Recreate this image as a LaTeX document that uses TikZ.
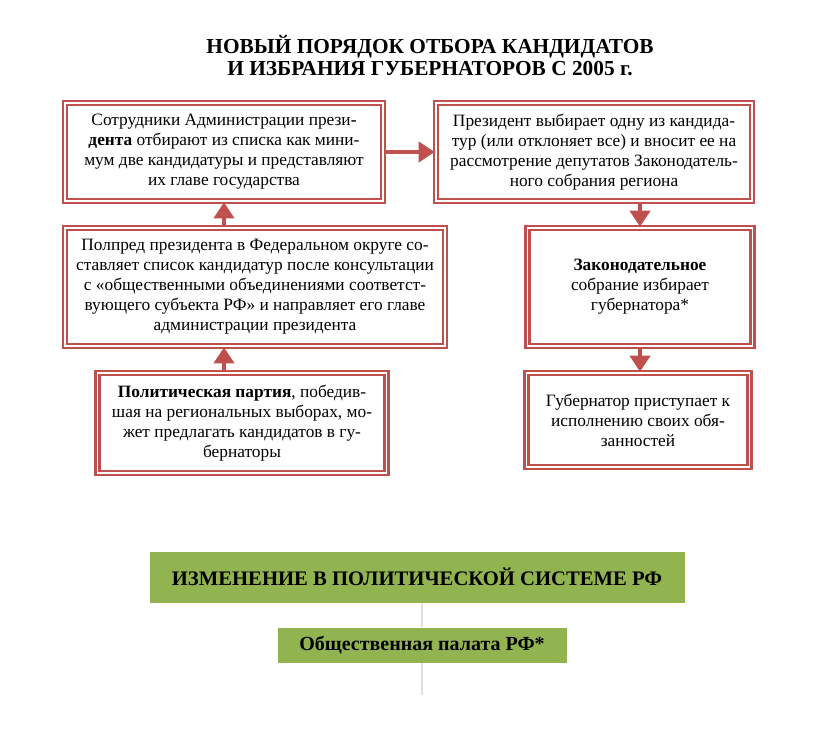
\documentclass[tikz,border=0pt]{standalone}
\usepackage{fontspec}
\setmainfont{Liberation Serif}
\usetikzlibrary{arrows.meta}

\definecolor{boxred}{RGB}{192,80,77}
\definecolor{leafgreen}{RGB}{146,180,80}
\newcommand{\pxu}{0.75pt}

\begin{document}
\begin{tikzpicture}[x=0.75pt, y=-0.75pt,
  stepbox/.style={draw=boxred, line width=1.9pt, double=white, double distance=0.8pt,
                  fill=white, align=center, inner sep=2pt,
                  font=\fontsize{13}{15}\selectfont},
  greenbar/.style={fill=leafgreen, align=center, inner sep=2pt,
                   font=\bfseries\fontsize{15.5}{17}\selectfont},
  flow/.style={-{Triangle[length=12pt,width=15pt]}, line width=3.6pt, boxred},
  faint/.style={black!12, line width=1pt}]

\useasboundingbox (0,0) rectangle (816,732);

\node[font=\bfseries\fontsize{16}{16.5}\selectfont, align=center] (title) at (430,56)
  {НОВЫЙ ПОРЯДОК ОТБОРА КАНДИДАТОВ\\И ИЗБРАНИЯ ГУБЕРНАТОРОВ С 2005 г.};

\node[stepbox, minimum width=318*\pxu, minimum height=98*\pxu] (staff) at (224,152)
  {Сотрудники Администрации прези\textbf{-}\\\textbf{дента} отбирают из списка как мини-\\мум две кандидатуры и представляют\\их главе государства};
\node[stepbox, minimum width=316*\pxu, minimum height=98*\pxu] (pres) at (594,152)
  {Президент выбирает одну из кандида-\\тур (или отклоняет все) и вносит ее на\\рассмотрение депутатов Законодатель-\\ного собрания региона};
\node[stepbox, minimum width=380*\pxu, minimum height=118*\pxu] (envoy) at (255,287)
  {Полпред президента в Федеральном округе со-\\ставляет список кандидатур после консультации\\с «общественными объединениями соответст-\\вующего субъекта РФ» и направляет его главе\\администрации президента};
\node[stepbox, minimum width=225*\pxu, minimum height=118*\pxu] (assembly) at (640,287)
  {\textbf{Законодательное}\\собрание избирает\\губернатора*};
\node[stepbox, minimum width=289*\pxu, minimum height=100*\pxu] (party) at (242,423)
  {\textbf{Политическая партия}, победив-\\шая на региональных выборах, мо-\\жет предлагать кандидатов в гу-\\бернаторы};
\node[stepbox, minimum width=223*\pxu, minimum height=94*\pxu] (gov) at (638,420)
  {Губернатор приступает к\\исполнению своих обя-\\занностей};

\draw[flow] (staff.east) -- (pres.west);
\draw[flow] (envoy.north -| staff.south) -- (staff.south);
\draw[flow] (party.north -| staff.south) -- (envoy.south -| staff.south);
\draw[flow] (pres.south -| assembly.north) -- (assembly.north);
\draw[flow] (assembly.south) -- (gov.north -| assembly.south);

% lower part
\node[greenbar, minimum width=535*\pxu, minimum height=51*\pxu] (change) at (417,577)
  {ИЗМЕНЕНИЕ В ПОЛИТИЧЕСКОЙ СИСТЕМЕ РФ};
\node[greenbar, minimum width=289*\pxu, minimum height=35*\pxu,
      font=\bfseries\fontsize{15}{16}\selectfont] (chamber) at (422,645)
  {Общественная палата РФ*};
\coordinate (tail) at (422,695);

\draw[faint] (change.south -| chamber.north) -- (chamber.north);
\draw[faint] (chamber.south) -- (tail);
\end{tikzpicture}
\end{document}
